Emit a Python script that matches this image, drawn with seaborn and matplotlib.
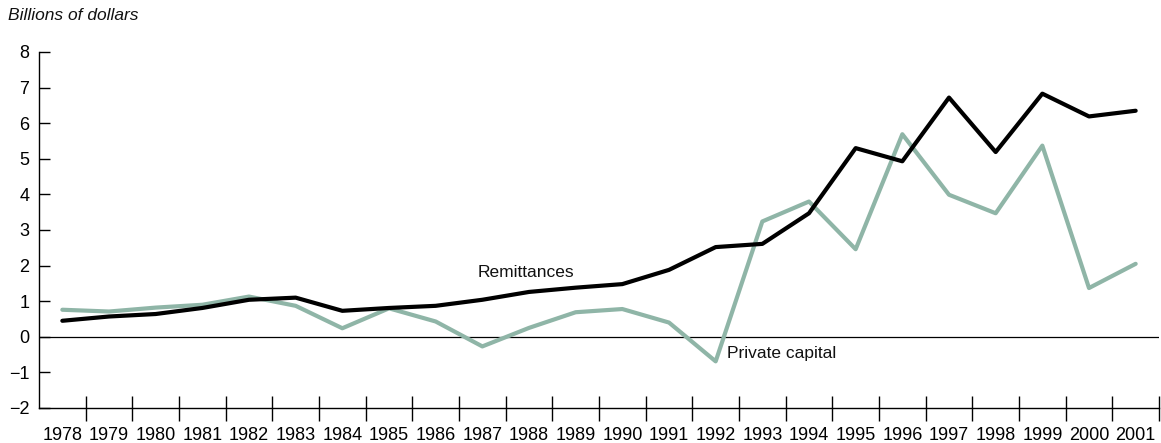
import pandas as pd
import seaborn as sns
import matplotlib.pyplot as plt
from matplotlib.ticker import FixedLocator

years = [str(y) for y in range(1978, 2002)]
remittances = [0.45, 0.57, 0.64, 0.81, 1.04, 1.10, 0.73, 0.81, 0.87, 1.04, 1.26, 1.38,
               1.48, 1.88, 2.52, 2.61, 3.47, 5.30, 4.93, 6.72, 5.19, 6.83, 6.19, 6.35]
private_capital = [0.76, 0.71, 0.82, 0.90, 1.13, 0.87, 0.24, 0.80, 0.43, -0.27, 0.25, 0.69,
                   0.78, 0.40, -0.69, 3.24, 3.80, 2.46, 5.69, 3.99, 3.47, 5.37, 1.37, 2.05]

df = pd.DataFrame({
    'year': years * 2,
    'value': private_capital + remittances,
    'series': ['Private capital'] * len(years) + ['Remittances'] * len(years),
})

sns.set_theme(style="white")
plt.rcParams['font.family'] = ['Liberation Sans', 'DejaVu Sans']

fig, ax = plt.subplots(figsize=(11.61, 4.43), dpi=100)
fig.subplots_adjust(left=39 / 1161, right=1159 / 1161, bottom=1 - 408 / 443, top=1 - 52 / 443)

palette = {'Private capital': '#8fb5a7', 'Remittances': 'black'}
sns.lineplot(data=df, x='year', y='value', hue='series', palette=palette, ax=ax,
             linewidth=3, legend=False, sort=False)
for line in ax.get_lines():
    line.set_solid_joinstyle('round')

ax.axhline(0, color='black', linewidth=0.9, zorder=0)

ax.set_xlim(-0.5, len(years) - 0.5)
ax.set_ylim(-2, 8)
ax.set_yticks(range(-2, 9))
ax.set_yticklabels(['\u22122', '\u22121'] + [str(v) for v in range(0, 9)])

ax.xaxis.set_major_locator(FixedLocator(range(len(years))))
ax.set_xticklabels(years)
ax.xaxis.set_minor_locator(FixedLocator([i + 0.5 for i in range(len(years))]))
ax.tick_params(axis='x', which='major', bottom=True, length=0, pad=14, labelsize=13,
               labelcolor='black')
ax.tick_params(axis='x', which='minor', bottom=True, direction='inout', length=18, width=1,
               color='black')
ax.tick_params(axis='y', direction='in', length=8, width=1, color='black', labelsize=13, pad=7,
               left=True, labelcolor='black')

for s in ['top', 'right']:
    ax.spines[s].set_visible(False)
for s in ['left', 'bottom']:
    ax.spines[s].set_color('black')
    ax.spines[s].set_linewidth(1)

ax.set_xlabel('')
ax.set_ylabel('')

ax.text(8.9, 1.8, 'Remittances', fontsize=12.5, ha='left', va='center', color='#111111')
ax.text(14.25, -0.48, 'Private capital', fontsize=12.5, ha='left', va='center', color='#111111')

fig.text(8 / 1161, 1 - 16 / 443, 'Billions of dollars', fontsize=12.5, style='italic',
         ha='left', va='center', color='#111111')

fig.savefig('out.png', dpi=100)
